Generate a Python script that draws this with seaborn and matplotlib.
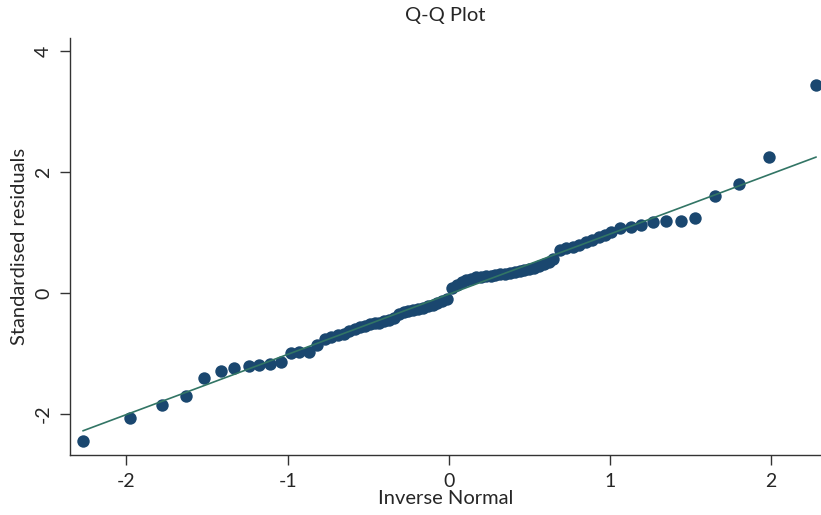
import matplotlib
matplotlib.use('Agg')
import matplotlib.pyplot as plt
import seaborn as sns
import numpy as np
import pandas as pd

# Inverse normal quantiles (x) and standardised residuals (y)
inv_normal = [
    -2.27, -1.98, -1.78, -1.63, -1.52, -1.41, -1.33, -1.24, -1.18, -1.11,
    -1.04, -0.98, -0.93, -0.87, -0.82,
    -0.77, -0.73, -0.69, -0.65, -0.62, -0.58, -0.55, -0.52, -0.49, -0.46,
    -0.43, -0.40, -0.37, -0.34, -0.31, -0.28, -0.25, -0.22, -0.19, -0.16,
    -0.13, -0.10, -0.07, -0.04, -0.01,
    0.02, 0.05, 0.08, 0.11, 0.14, 0.17, 0.20, 0.23, 0.26, 0.29,
    0.32, 0.35, 0.38, 0.41, 0.44, 0.47, 0.50, 0.53, 0.56, 0.59,
    0.62, 0.65, 0.69, 0.73, 0.77, 0.81, 0.85, 0.89, 0.93, 0.97,
    1.01, 1.06, 1.13, 1.19, 1.27, 1.35, 1.44, 1.53, 1.65, 1.80,
    1.99, 2.28,
]
std_resid = [
    -2.45, -2.07, -1.85, -1.70, -1.40, -1.29, -1.24, -1.21, -1.19, -1.17,
    -1.14, -0.99, -0.98, -0.98, -0.86,
    -0.76, -0.72, -0.70, -0.67, -0.63, -0.60, -0.56, -0.54, -0.52, -0.50,
    -0.49, -0.47, -0.45, -0.41, -0.35, -0.32, -0.30, -0.28, -0.26, -0.24,
    -0.21, -0.19, -0.17, -0.14, -0.10,
    0.08, 0.14, 0.18, 0.21, 0.24, 0.26, 0.27, 0.28, 0.29, 0.30,
    0.31, 0.32, 0.33, 0.34, 0.36, 0.38, 0.39, 0.41, 0.44, 0.48,
    0.52, 0.57, 0.71, 0.74, 0.77, 0.80, 0.84, 0.88, 0.92, 0.96,
    1.01, 1.07, 1.09, 1.12, 1.17, 1.19, 1.19, 1.24, 1.60, 1.80,
    2.25, 3.45,
]
# reference line (mean + sd * z)
line_slope = 0.9956
line_intercept = -0.02

x_ticks = [-2, -1, 0, 1, 2]
y_ticks = [-2, 0, 2, 4]

df = pd.DataFrame({'x': inv_normal, 'y': std_resid})
xs = np.array([min(inv_normal), max(inv_normal)])
line_df = pd.DataFrame({'x': xs, 'y': line_intercept + line_slope * xs})

sns.set_style('white')
plt.rcParams['font.family'] = ['Lato', 'DejaVu Sans']

fig = plt.figure(figsize=(8.21, 5.15), dpi=100)
ax = fig.add_axes([70 / 821, 60 / 515, 1 - 70 / 821, (455 - 38) / 515])

sns.scatterplot(data=df, x='x', y='y', ax=ax, color='#1a476f', s=80,
                linewidth=0, zorder=2, clip_on=False)
sns.lineplot(data=line_df, x='x', y='y', ax=ax, color='#327565',
             linewidth=1.2, zorder=3)

ax.set_xlim(-2.35, 2.31)
ax.set_ylim(-2.68, 4.22)
ax.set_xticks(x_ticks)
ax.set_yticks(y_ticks)
ax.set_xticklabels([str(t) for t in x_ticks])
ax.set_yticklabels([str(t) for t in y_ticks], rotation=90, va='center')

for s in ['top', 'right']:
    ax.spines[s].set_visible(False)
for s in ['left', 'bottom']:
    ax.spines[s].set_color('#333333')
    ax.spines[s].set_linewidth(1.0)

ax.tick_params(axis='both', direction='out', length=7, width=1.0,
               color='#333333', labelsize=14, pad=6)
ax.tick_params(axis='x', bottom=True)
ax.tick_params(axis='y', left=True)

ax.set_xlabel('Inverse Normal', fontsize=14.5, labelpad=0)
ax.set_ylabel('Standardised residuals', fontsize=14.5, labelpad=5)
ax.set_title('Q-Q Plot', fontsize=14.5, pad=12)

fig.savefig('out.png', dpi=100)
